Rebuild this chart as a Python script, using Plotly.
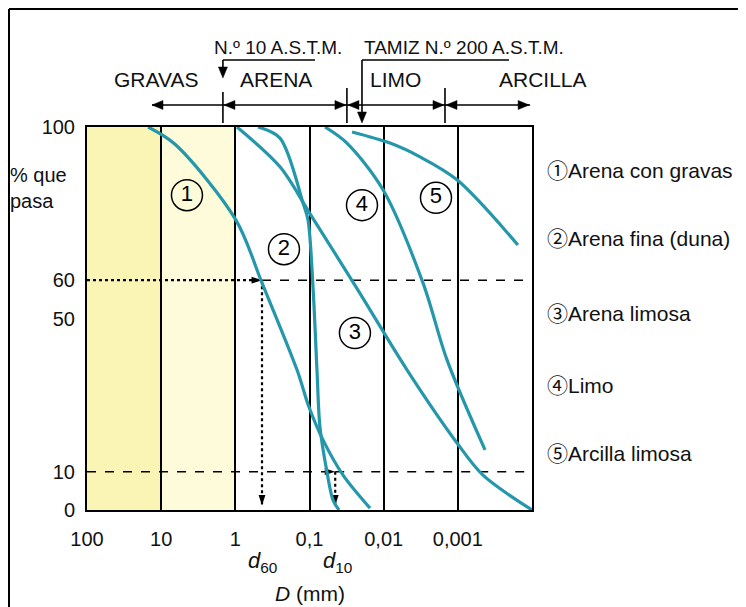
import math
import plotly.graph_objects as go

# ---------------- data ----------------
# particle size D (mm) and % passing for each grading curve
c1_d = [15.0, 6.5, 0.98, 0.437, 0.1475, 0.1016, 0.0658, 0.0353, 0.0153]
c1_p = [100, 95.5, 75.7, 59.3, 36.6, 26.9, 18.3, 9.1, 0.5]
c2_d = [0.494, 0.25, 0.1225, 0.1047, 0.0897, 0.0793, 0.0723, 0.0581, 0.0482, 0.040]
c2_p = [100, 97.1, 80.2, 75.7, 58.2, 36.6, 21.7, 9.9, 2.6, 0]
c3_d = [0.95, 0.25, 0.1016, 0.0222, 0.00485, 0.001026, 0.000458, 0.0001]
c3_p = [100, 89.6, 77.8, 57.4, 36.6, 17.5, 9.1, 0]
c4_d = [0.0618, 0.0313, 0.0102, 0.00295, 0.0014, 0.00043]
c4_p = [100, 95.8, 83.6, 59.3, 39.2, 15.7]
c5_d = [0.0267, 0.00822, 0.00324, 0.001026, 0.000155]
c5_p = [98.7, 95.8, 92.2, 86.2, 69.2]

curve_names = ["Arena con gravas", "Arena fina (duna)", "Arena limosa", "Limo", "Arcilla limosa"]
curve_marks = ["①", "②", "③", "④", "⑤"]
# in-plot curve number labels (D, %)
label_d = [4.49, 0.221, 0.0244, 0.0196, 0.00197]
label_p = [82.2, 68.1, 46.2, 79.6, 81.5]

x_tickvals = [100, 10, 1, 0.1, 0.01, 0.001]
x_ticktext = ["100", "10", "1", "0,1", "0,01", "0,001"]
y_tickvals = [0, 10, 50, 60, 100]
y_ticktext = ["0", "10", "50", "60", "100"]

d60 = 0.437
d10 = 0.045
x_min, x_max = 0.0001, 100

# soil class boundaries (mm) and class-arrow extents
bound_d = [1.47, 0.0313, 0.00149]
gravas_end = 13.3
arcilla_end = 0.000106
tamiz_d = 0.0196
bracket10_end = 0.0843
bracket200_end = 0.000204

# ---------------- styling ----------------
TEAL = "#2497AB"
FONT = "Liberation Sans, Arial, Noto Sans CJK JP, sans-serif"
OFF = 8                      # page body margin
W, H = 746 - OFF, 607 - OFF
PX0, PX1, PY0, PY1 = 87, 532, 127, 510   # plot box in reference pixels
L, T = PX0 - OFF, PY0 - OFF
R, B = W - (PX1 - OFF), H - (PY1 - OFF)
PW, PH = PX1 - PX0, PY1 - PY0
LOG_SPAN = math.log10(x_max) - math.log10(x_min)


def xp(px):
    return (px - PX0) / PW


def yp(py):
    return (PY1 - py) / PH


def xd(d):
    # data value (mm) -> paper x
    return (math.log10(x_max) - math.log10(d)) / LOG_SPAN


fig = go.Figure()

# light yellow gravel / coarse bands
fig.add_shape(type="rect", xref="x", yref="y", x0=100, x1=10, y0=0, y1=100,
              fillcolor="#FAF5B4", line_width=0, layer="below")
fig.add_shape(type="rect", xref="x", yref="y", x0=10, x1=1, y0=0, y1=100,
              fillcolor="#FDFBD9", line_width=0, layer="below")


def line_trace(x, y, dash, width=1.8):
    fig.add_trace(go.Scatter(x=x, y=y, mode="lines", hoverinfo="skip",
                             line=dict(color="black", width=width, dash=dash)))


def head(x, y, angle, size=11):
    fig.add_trace(go.Scatter(x=[x], y=[y], mode="markers", hoverinfo="skip",
                             marker=dict(symbol="arrow", size=size, angle=angle, color="black",
                                         line=dict(width=0))))


# reference lines at 60 % and 10 %
line_trace([x_max, d60], [60, 60], "dot", 2.2)
line_trace([d60, x_min], [60, 60], "dash", 1.6)
line_trace([d60, d60], [60, 1.5], "dot", 2.2)
line_trace([x_max, d10], [10, 10], "dash", 1.6)
line_trace([d10, x_min], [10, 10], "dash", 1.6)
line_trace([d10, d10], [10, 1.5], "dot", 2.2)
head(d60, 60, 90)
head(d60, 1.2, 180)
head(d10, 10, 90)
head(d10, 1.2, 180)

# grading curves
for d, p, name in zip([c1_d, c2_d, c3_d, c4_d, c5_d], [c1_p, c2_p, c3_p, c4_p, c5_p], curve_names):
    fig.add_trace(go.Scatter(x=d, y=p, mode="lines", name=name,
                             line=dict(color=TEAL, width=3.2, shape="spline", smoothing=0.9)))

# circled curve numbers
fig.add_trace(go.Scatter(x=label_d, y=label_p, mode="markers+text",
                         text=[str(i + 1) for i in range(5)], textposition="middle center",
                         textfont=dict(family=FONT, size=22, color="black"),
                         marker=dict(symbol="circle-open", size=31, color="black", line=dict(width=1.5)),
                         hoverinfo="skip"))

ann = []
# right-hand key
key_py = [170, 238, 313, 385, 453]
for m, n, py in zip(curve_marks, curve_names, key_py):
    ann.append(dict(xref="paper", yref="paper", x=xp(545), y=yp(py), xanchor="left", yanchor="middle",
                    text=m + n, showarrow=False, font=dict(family=FONT, size=21, color="#111")))

# y title
ann.append(dict(xref="paper", yref="paper", x=xp(8), y=yp(188), xanchor="left", yanchor="middle",
                text="% que<br>pasa", align="left", showarrow=False,
                font=dict(family=FONT, size=20, color="#111")))

# d60 / d10 / axis title
sub_font = dict(family=FONT, size=22, color="#111")
ann.append(dict(xref="x", yref="paper", x=math.log10(d60), y=yp(562), xanchor="center", yanchor="middle",
                text="<i>d</i><sub>60</sub>", showarrow=False, font=sub_font))
ann.append(dict(xref="x", yref="paper", x=math.log10(d10) - 0.03, y=yp(562), xanchor="center",
                yanchor="middle", text="<i>d</i><sub>10</sub>", showarrow=False, font=sub_font))
ann.append(dict(xref="paper", yref="paper", x=xp(310), y=yp(593), xanchor="center", yanchor="middle",
                text="<i>D</i> (mm)", showarrow=False, font=dict(family=FONT, size=21, color="#111")))

# header texts
hdr_font = dict(family=FONT, size=19, color="#111")
ann.append(dict(xref="paper", yref="paper", x=xp(212), y=yp(48), xanchor="left", yanchor="middle",
                text="N.º 10 A.S.T.M.", showarrow=False, font=hdr_font))
ann.append(dict(xref="paper", yref="paper", x=xp(362), y=yp(48), xanchor="left", yanchor="middle",
                text="TAMIZ N.º 200 A.S.T.M.", showarrow=False, font=hdr_font))
cls_font = dict(family=FONT, size=21, color="#111")
for txt, px in [("GRAVAS", 156), ("ARENA", 276), ("LIMO", 395), ("ARCILLA", 543)]:
    ann.append(dict(xref="paper", yref="paper", x=xp(px), y=yp(80), xanchor="center", yanchor="middle",
                    text=txt, showarrow=False, font=cls_font))

shapes = []
blk = dict(color="black", width=1.6)
HL, HW = 11, 4.5   # arrow head length / half width in px


def head_shape(x, y, direction):
    # filled triangle, tip at paper point (x, y)
    lx, ly = HL / PW, HL / PH
    wx, wy = HW / PW, HW / PH
    if direction == "left":
        pts = [(x, y), (x + lx, y + wy), (x + lx, y - wy)]
    elif direction == "right":
        pts = [(x, y), (x - lx, y + wy), (x - lx, y - wy)]
    else:  # down
        pts = [(x, y), (x - wx, y + ly), (x + wx, y + ly)]
    path = "M {:.5f},{:.5f} L {:.5f},{:.5f} L {:.5f},{:.5f} Z".format(*pts[0], *pts[1], *pts[2])
    shapes.append(dict(type="path", xref="paper", yref="paper", path=path,
                       fillcolor="black", line=dict(color="black", width=0.5)))


row_y = yp(105)
# class arrow shafts
for a, b in [(gravas_end, bound_d[0]), (bound_d[0], bound_d[1]), (bound_d[1], bound_d[2]),
             (bound_d[2], arcilla_end)]:
    shapes.append(dict(type="line", xref="x", yref="paper", x0=a, x1=b, y0=row_y, y1=row_y, line=blk))
# arrow heads of the class arrows
head_shape(xd(gravas_end), row_y, "left")
for a, b in [(bound_d[0], bound_d[1]), (bound_d[1], bound_d[2]), (bound_d[2], arcilla_end)]:
    head_shape(xd(a) + 1 / PW, row_y, "left")
    head_shape(xd(b) - 1 / PW, row_y, "right")

# N.º 10 bracket
shapes.append(dict(type="line", xref="x", yref="paper", x0=bound_d[0], x1=bracket10_end,
                   y0=yp(60), y1=yp(60), line=blk))
shapes.append(dict(type="line", xref="x", yref="paper", x0=bound_d[0], x1=bound_d[0],
                   y0=yp(60), y1=yp(72), line=blk))
head_shape(xd(bound_d[0]), yp(78), "down")
shapes.append(dict(type="line", xref="x", yref="paper", x0=bound_d[0], x1=bound_d[0],
                   y0=yp(92), y1=yp(123), line=blk))
# N.º 200 bracket
shapes.append(dict(type="line", xref="x", yref="paper", x0=tamiz_d, x1=bracket200_end,
                   y0=yp(60), y1=yp(60), line=blk))
shapes.append(dict(type="line", xref="x", yref="paper", x0=tamiz_d, x1=tamiz_d,
                   y0=yp(60), y1=yp(115), line=blk))
head_shape(xd(tamiz_d), yp(123), "down")
for bd in bound_d[1:]:
    shapes.append(dict(type="line", xref="x", yref="paper", x0=bd, x1=bd,
                       y0=yp(88), y1=yp(123), line=blk))
# outer frame (top and left, the rest is cropped)
shapes.append(dict(type="line", xref="paper", yref="paper", x0=xp(9), x1=xp(746), y0=yp(9), y1=yp(9),
                   line=dict(color="black", width=2)))
shapes.append(dict(type="line", xref="paper", yref="paper", x0=xp(9), x1=xp(9), y0=yp(9), y1=yp(607),
                   line=dict(color="black", width=2)))

fig.update_layout(
    width=W, height=H, margin=dict(l=L, r=R, t=T, b=B),
    paper_bgcolor="white", plot_bgcolor="rgba(0,0,0,0)",
    showlegend=False, annotations=ann,
    font=dict(family=FONT, color="#111"),
)
for s in shapes:
    fig.add_shape(**s)

fig.update_xaxes(type="log", range=[math.log10(x_max), math.log10(x_min)],
                 tickvals=x_tickvals, ticktext=x_ticktext, ticks="",
                 showgrid=True, gridcolor="black", gridwidth=1.5,
                 showline=True, linecolor="black", linewidth=2, mirror=True,
                 tickfont=dict(family=FONT, size=20, color="#111"), ticklabelstandoff=10,
                 zeroline=False)
fig.update_yaxes(range=[0, 100], tickvals=y_tickvals, ticktext=y_ticktext, ticks="",
                 showgrid=False, showline=True, linecolor="black", linewidth=2, mirror=True,
                 tickfont=dict(family=FONT, size=20, color="#111"), ticklabelstandoff=6,
                 zeroline=False)

fig.write_html("out.html")
